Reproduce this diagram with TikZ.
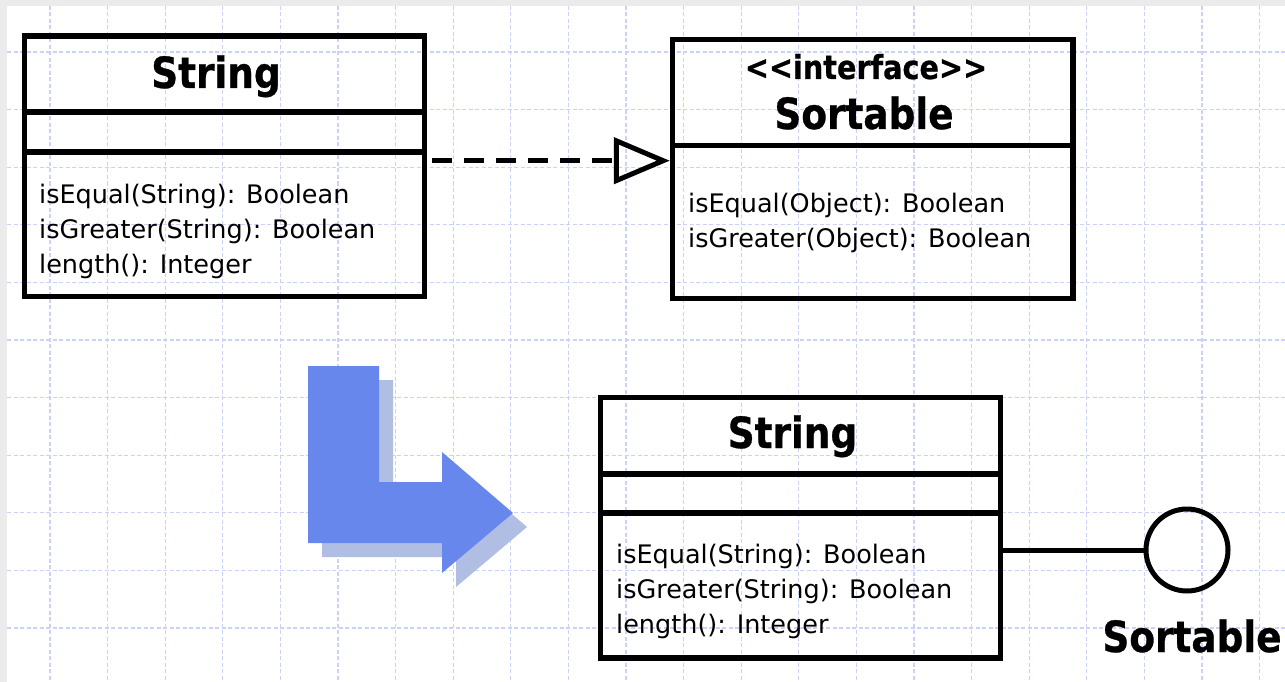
\documentclass[tikz,border=0pt]{standalone}
\usepackage{fontspec}
\setmainfont{DejaVu Sans}
\newfontfamily\titlefont{DejaVu Sans}[FakeStretch=0.87, FakeBold=0.7]
\usetikzlibrary{arrows.meta,calc}
\definecolor{gridblue}{RGB}{203,210,248}
\definecolor{marginGray}{RGB}{235,235,235}
\definecolor{arrowblue}{RGB}{104,135,237}
\definecolor{arrowshade}{RGB}{176,190,228}
\begin{document}
\begin{tikzpicture}[x=1pt,y=-1pt,
  classbox/.style={draw, line width=5.5pt, rectangle, inner sep=0pt, minimum width=400pt},
  sepline/.style={line width=5.5pt},
  classtitle/.style={anchor=base, inner sep=0pt, font=\titlefont\bfseries\fontsize{43}{43}\selectfont},
  stereo/.style={anchor=base, inner sep=0pt, font=\titlefont\bfseries\fontsize{33}{33}\selectfont},
  member/.style={anchor=base west, inner sep=0pt, font=\fontsize{25.5}{30}\selectfont},
  gridline/.style={draw=gridblue, line width=1.1pt, dash pattern=on 4pt off 2.5pt},
  realize/.style={line width=5.5pt, dash pattern=on 20pt off 12pt,
    -{Triangle[open, length=56pt, width=46pt, line width=5pt]}},
  lolly/.style={line width=5pt}
]
% canvas and margins
\useasboundingbox (0,0) rectangle (1285,682);
\fill[white] (0,0) rectangle (1285,682);
\fill[marginGray] (0,0) rectangle (1285,6);
\fill[marginGray] (0,0) rectangle (7,682);

% background grid
\foreach \i in {0,...,21}
  \draw[gridline] ({50+57.6*\i},6) -- ({50+57.6*\i},682);
\foreach \j in {0,...,10}
  \draw[gridline] (7,{52+57.6*\j}) -- (1285,{52+57.6*\j});

% class String (top)
\node[classbox, minimum height=260.5pt] (str1) at (224.5,166.25) {};
\draw[sepline] (str1.west |- 0,112) -- (str1.east |- 0,112);
\draw[sepline] (str1.west |- 0,152) -- (str1.east |- 0,152);
\node[classtitle] (str1name) at (216,88) {String};
\node[member] (str1m1) at (39,203) {isEqual(String): Boolean};
\node[member] (str1m2) at (39,238) {isGreater(String): Boolean};
\node[member] (str1m3) at (39,273) {length(): Integer};

% interface Sortable
\node[classbox, minimum width=400.5pt, minimum height=259pt] (sort) at (872.75,169) {};
\draw[sepline] (sort.west |- 0,145.5) -- (sort.east |- 0,145.5);
\node[stereo] (sortstereo) at (866,79) {<<interface>>};
\node[classtitle] (sortname) at (864,129) {Sortable};
\node[member] (sortm1) at (688,212) {isEqual(Object): Boolean};
\node[member] (sortm2) at (688,247) {isGreater(Object): Boolean};

% realization
\draw[realize] ($(str1.east |- 0,160.7)+(5,0)$) -- (sort.west |- 0,160.7);

% transformation arrow with its shadow
\fill[arrowshade, shift={(14,14)}]
  (308,366) -- (379,366) -- (379,482) -- (442,482) -- (442,452) -- (513,513)
  -- (442,573) -- (442,543) -- (308,543) -- cycle;
\fill[arrowblue]
  (308,366) -- (379,366) -- (379,482) -- (442,482) -- (442,452) -- (513,513)
  -- (442,573) -- (442,543) -- (308,543) -- cycle;

% class String (bottom) with lollipop interface
\node[classbox, minimum height=260.5pt] (str2) at (800.5,527.75) {};
\draw[sepline] (str2.west |- 0,474) -- (str2.east |- 0,474);
\draw[sepline] (str2.west |- 0,513) -- (str2.east |- 0,513);
\node[classtitle] (str2name) at (792.5,448) {String};
\node[member] (str2m1) at (616,563) {isEqual(String): Boolean};
\node[member] (str2m2) at (616,598) {isGreater(String): Boolean};
\node[member] (str2m3) at (616,633) {length(): Integer};

\node[draw, circle, lolly, minimum size=82pt, inner sep=0pt] (iface) at (1187,550) {};
\draw[lolly] (str2.east |- iface.west) -- (iface.west);
\node[classtitle] (ifacename) at (1192,652) {Sortable};
\end{tikzpicture}
\end{document}
